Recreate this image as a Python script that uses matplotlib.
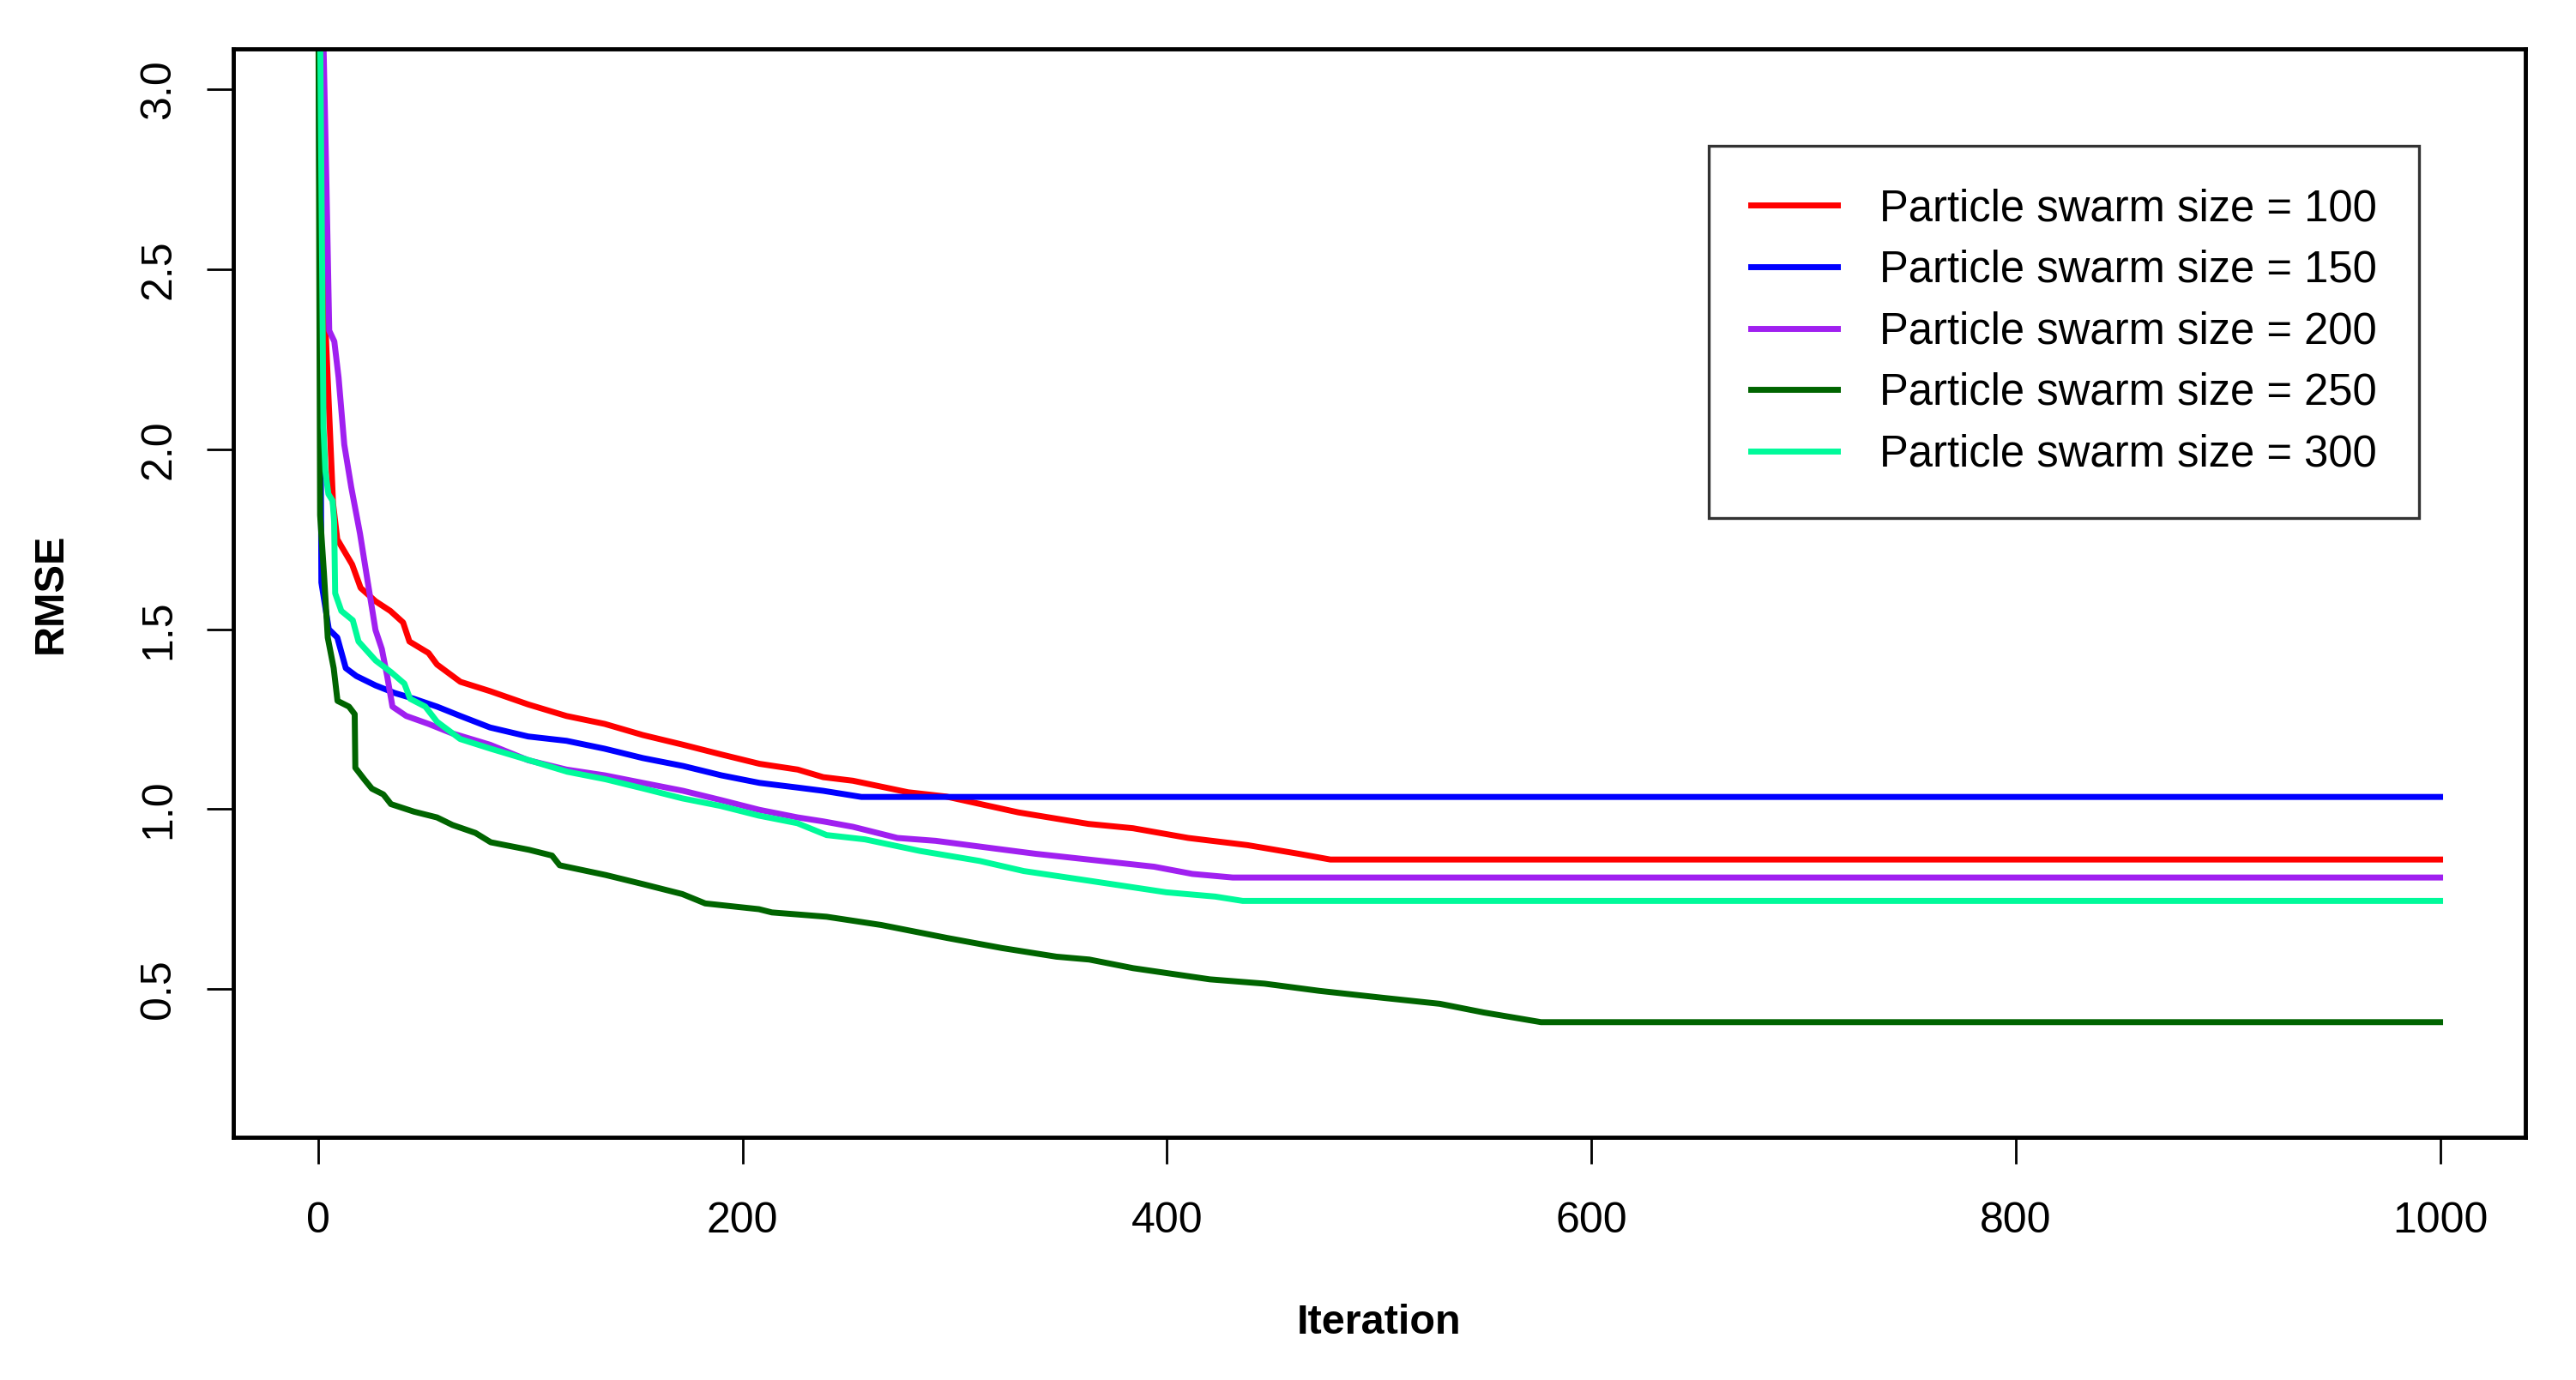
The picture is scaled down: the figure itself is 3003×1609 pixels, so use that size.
import matplotlib
matplotlib.use("Agg")
import matplotlib.pyplot as plt

plt.rcParams['font.family'] = ['Liberation Sans', 'DejaVu Sans']

# ---------------- data ----------------
labels = ["Particle swarm size = 100", "Particle swarm size = 150",
          "Particle swarm size = 200", "Particle swarm size = 250",
          "Particle swarm size = 300"]
colors = ["#FF0000", "#0000FF", "#A020F0", "#006400", "#00FA9A"]

x_100 = [0, 3, 7, 9, 16, 20, 27, 34, 40, 43, 52, 56, 67, 81, 99, 117, 135, 153,
         172, 190, 208, 226, 238, 252, 278, 296, 330, 363, 384, 410, 438, 462, 477, 1000]
y_100 = [3.6, 2.4, 1.85, 1.75, 1.68, 1.615, 1.578, 1.551, 1.519, 1.466, 1.434, 1.402,
         1.354, 1.328, 1.291, 1.259, 1.237, 1.206, 1.179, 1.152, 1.126, 1.110, 1.089,
         1.079, 1.047, 1.035, 0.991, 0.959, 0.947, 0.920, 0.900, 0.876, 0.860, 0.860]

x_150 = [0, 1.5, 5, 9, 13, 18, 27, 36, 45, 56, 67, 81, 99, 117, 135, 153, 172, 190,
         208, 226, 238, 256, 1000]
y_150 = [3.5, 1.63, 1.50, 1.477, 1.392, 1.370, 1.344, 1.323, 1.307, 1.285, 1.259,
         1.227, 1.202, 1.190, 1.168, 1.142, 1.120, 1.094, 1.073, 1.060, 1.051, 1.034, 1.034]

x_200 = [0, 2.6, 3.9, 5.2, 7.6, 9.6, 12.3, 15.6, 19.7, 23.5, 27, 30, 32.5, 35, 41.5,
         52, 63, 81, 99, 117, 135, 153, 172, 190, 208, 226, 238, 252, 273, 291, 317,
         338, 363, 394, 412, 431, 1000]
y_200 = [3.6, 3.1, 2.73, 2.33, 2.30, 2.20, 2.013, 1.894, 1.766, 1.626, 1.498, 1.445,
         1.370, 1.285, 1.259, 1.237, 1.211, 1.179, 1.136, 1.110, 1.094, 1.073, 1.051,
         1.025, 0.998, 0.977, 0.966, 0.951, 0.920, 0.912, 0.892, 0.876, 0.860, 0.840,
         0.820, 0.810, 0.810]

x_250 = [0, 0.9, 2.7, 4.5, 7.3, 9.1, 14.5, 17.2, 17.5, 21.7, 25.3, 30.7, 34.3, 45.2,
         56, 63.3, 74.1, 81.3, 99.4, 110.2, 113.8, 135.5, 153.5, 171.6, 182.4, 207.7,
         213.8, 239.6, 265.4, 296.4, 322.2, 347.9, 363.4, 384.1, 420.2, 446, 471.8,
         502.8, 528.6, 549.2, 576.3, 1000]
y_250 = [3.4, 1.817, 1.657, 1.477, 1.392, 1.301, 1.285, 1.264, 1.115, 1.083, 1.057,
         1.041, 1.014, 0.993, 0.977, 0.956, 0.934, 0.908, 0.887, 0.871, 0.844, 0.817,
         0.791, 0.764, 0.738, 0.722, 0.713, 0.701, 0.678, 0.642, 0.614, 0.590, 0.582,
         0.558, 0.527, 0.515, 0.495, 0.475, 0.459, 0.435, 0.408, 0.408]

x_300 = [0, 2.5, 3.4, 4.8, 6.8, 7.5, 8, 10.9, 16.3, 19, 27.1, 34.3, 40.6, 43.3, 50.5,
         56, 66.9, 81.3, 99.4, 117.4, 135.5, 153.5, 171.6, 189.6, 207.7, 225.8, 239.6,
         257.7, 283.5, 311.8, 332.5, 363.4, 399.6, 422.8, 435.7, 1000]
y_300 = [3.8, 2.06, 1.94, 1.876, 1.857, 1.80, 1.60, 1.551, 1.525, 1.466, 1.413, 1.381,
         1.349, 1.307, 1.285, 1.243, 1.195, 1.168, 1.136, 1.104, 1.083, 1.057, 1.030,
         1.009, 0.982, 0.961, 0.928, 0.916, 0.884, 0.856, 0.828, 0.801, 0.769, 0.757,
         0.745, 0.745]

series_x = [x_100, x_150, x_200, x_250, x_300]
series_y = [y_100, y_150, y_200, y_250, y_300]

x_ticks = [0, 200, 400, 600, 800, 1000]
y_ticks = [0.5, 1.0, 1.5, 2.0, 2.5, 3.0]
y_tick_labels = ["0.5", "1.0", "1.5", "2.0", "2.5", "3.0"]

# ---------------- figure ----------------
W, H = 3003, 1609
fig = plt.figure(figsize=(W / 100, H / 100), dpi=100)
ax = fig.add_axes([272 / W, 1 - 1326 / H, (2943.5 - 272) / W, (1326 - 57.5) / H])

for xs, ys, c, lab in zip(series_x, series_y, colors, labels):
    ax.plot(xs, ys, color=c, lw=5, label=lab, solid_joinstyle='round')

ax.set_xlim(-40, 1040)
ax.set_ylim(0.088, 3.112)
ax.set_xticks(x_ticks)
ax.set_xticklabels([str(v) for v in x_ticks])
ax.set_yticks(y_ticks)
ax.set_yticklabels(y_tick_labels, rotation=90, va='center')

for sp in ax.spines.values():
    sp.set_linewidth(3.5)
    sp.set_color('black')

ax.tick_params(axis='both', direction='out', length=22, width=2, labelsize=36,
               color='black')
ax.tick_params(axis='x', pad=32)
ax.tick_params(axis='y', pad=24)

ax.set_xlabel("Iteration", fontsize=35, fontweight='bold')
ax.set_ylabel("RMSE", fontsize=35, fontweight='bold')
ax.xaxis.set_label_coords(0.5, -0.1703)
ax.xaxis.label.set_va('center')
ax.yaxis.set_label_coords(-0.0795, 0.5)
ax.yaxis.label.set_va('center')

leg = ax.legend(loc='upper left', bbox_to_anchor=(0.6438, 0.9113),
                borderaxespad=0, fontsize=36.5, frameon=True, fancybox=False,
                handlelength=2.0, handletextpad=0.96, labelspacing=0.445,
                borderpad=0.97)
leg.get_frame().set_edgecolor('black')
leg.get_frame().set_linewidth(2.4)
for line in leg.get_lines():
    line.set_linewidth(5)

fig.savefig("out.png", dpi=100, facecolor='white')
